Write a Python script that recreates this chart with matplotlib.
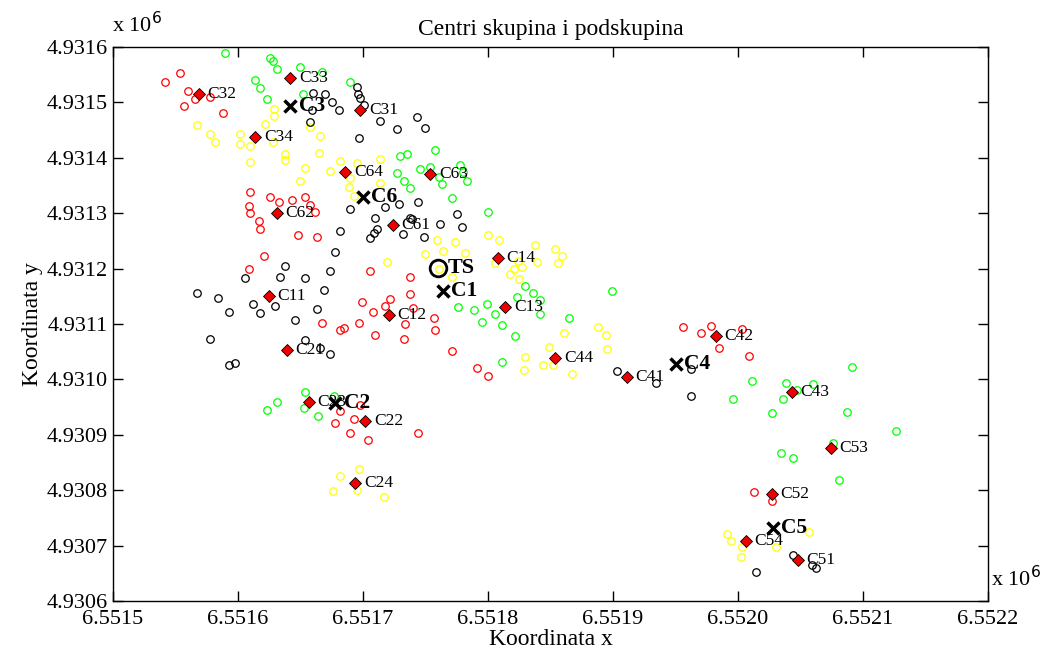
import numpy as np
import matplotlib
matplotlib.use('Agg')
import matplotlib.pyplot as plt

plt.rcParams['font.family'] = ['Liberation Serif', 'DejaVu Serif']

# tocke po skupinama (koordinate u metrima)
red_x = [6551542, 6551554, 6551560, 6551566, 6551557, 6551578, 6551588, 6551610, 6551609, 6551610,
         6551617, 6551618, 6551626, 6551633, 6551643, 6551654, 6551658, 6551662, 6551648, 6551663,
         6551621, 6551609, 6551706, 6551738, 6551699, 6551708, 6551722, 6551718, 6551738, 6551667,
         6551685, 6551682, 6551697, 6551710, 6551733, 6551734, 6551740, 6551757, 6551758, 6551771,
         6551791, 6551800, 6551956, 6551970, 6551978, 6551985, 6552003, 6552009, 6551682, 6551698,
         6551678, 6551693, 6551690, 6551704, 6551744, 6552013, 6552027]
red_y = [4931537, 4931553, 4931521, 4931506, 4931494, 4931510, 4931481, 4931338, 4931313, 4931300,
         4931286, 4931271, 4931329, 4931320, 4931324, 4931329, 4931315, 4931302, 4931261, 4931257,
         4931223, 4931199, 4931196, 4931185, 4931140, 4931122, 4931145, 4931133, 4931154, 4931102,
         4931093, 4931089, 4931102, 4931080, 4931073, 4931100, 4931129, 4931111, 4931089, 4931051,
         4931021, 4931006, 4931095, 4931084, 4931096, 4931057, 4931091, 4931042, 4930943, 4930954,
         4930921, 4930929, 4930903, 4930891, 4930903, 4930797, 4930780]

green_x = [6551590, 6551626, 6551628, 6551631, 6551650, 6551667, 6551614, 6551618, 6551652, 6551623,
           6551690, 6551730, 6551735, 6551727, 6551733, 6551738, 6551758, 6551746, 6551754, 6551761,
           6551763, 6551778, 6551780, 6551783, 6551771, 6551800, 6551899, 6551830, 6551836, 6551842,
           6551842, 6551823, 6551799, 6551806, 6551789, 6551776, 6551795, 6551811, 6551822, 6551865,
           6551811, 6552011, 6551996, 6552038, 6552060, 6552047, 6552036, 6552027, 6552091, 6552087,
           6552126, 6552076, 6552034, 6552044, 6552081, 6551654, 6551631, 6551623, 6551653, 6551664,
           6551677]
green_y = [4931589, 4931580, 4931575, 4931560, 4931564, 4931555, 4931540, 4931526, 4931515, 4931506,
           4931537, 4931403, 4931407, 4931373, 4931358, 4931345, 4931414, 4931380, 4931383, 4931365,
           4931353, 4931387, 4931374, 4931358, 4931327, 4931302, 4931160, 4931169, 4931156, 4931143,
           4931118, 4931149, 4931136, 4931118, 4931125, 4931131, 4931104, 4931098, 4931078, 4931111,
           4931031, 4930997, 4930965, 4930994, 4930992, 4930981, 4930965, 4930939, 4931022, 4930941,
           4930907, 4930885, 4930867, 4930858, 4930818, 4930977, 4930959, 4930945, 4930948, 4930934,
           4930970]

yellow_x = [6551567, 6551578, 6551582, 6551602, 6551602, 6551610, 6551610, 6551622, 6551629, 6551629,
            6551628, 6551638, 6551638, 6551654, 6551650, 6551658, 6551666, 6551665, 6551674, 6551682,
            6551695, 6551690, 6551689, 6551693, 6551714, 6551714, 6551759, 6551774, 6551800, 6551809,
            6551750, 6551764, 6551782, 6551761, 6551771, 6551806, 6551824, 6551827, 6551821, 6551818,
            6551825, 6551838, 6551839, 6551854, 6551859, 6551856, 6551888, 6551894, 6551895, 6551861,
            6551849, 6551830, 6551844, 6551852, 6551829, 6551867, 6551719, 6551697, 6551682, 6551676,
            6551695, 6551717, 6552057, 6551991, 6551994, 6552003, 6552030, 6552002]
yellow_y = [4931459, 4931443, 4931429, 4931443, 4931425, 4931421, 4931392, 4931461, 4931488, 4931475,
            4931429, 4931407, 4931396, 4931382, 4931358, 4931456, 4931439, 4931409, 4931376, 4931394,
            4931391, 4931364, 4931347, 4931331, 4931398, 4931355, 4931252, 4931248, 4931261, 4931252,
            4931226, 4931232, 4931228, 4931199, 4931185, 4931210, 4931214, 4931203, 4931199, 4931190,
            4931181, 4931243, 4931212, 4931235, 4931223, 4931210, 4931095, 4931080, 4931055, 4931084,
            4931058, 4931040, 4931026, 4931026, 4931017, 4931010, 4931212, 4930838, 4930826, 4930799,
            4930800, 4930788, 4930725, 4930721, 4930708, 4930697, 4930697, 4930679]

black_x = [6551660, 6551670, 6551675, 6551681, 6551659, 6551695, 6551696, 6551698, 6551701, 6551714,
           6551727, 6551743, 6551750, 6551697, 6551658, 6551690, 6551718, 6551729, 6551744, 6551710,
           6551682, 6551711, 6551709, 6551739, 6551762, 6551775, 6551779, 6551749, 6551706, 6551732,
           6551738, 6551678, 6551638, 6551634, 6551654, 6551606, 6551674, 6551669, 6551567, 6551584,
           6551612, 6551630, 6551618, 6551593, 6551663, 6551646, 6551578, 6551654, 6551666, 6551674,
           6551593, 6551598, 6551903, 6551934, 6551962, 6551962, 6552044, 6552014, 6552059, 6552062]
black_y = [4931517, 4931515, 4931501, 4931486, 4931486, 4931528, 4931515, 4931508, 4931495, 4931466,
           4931452, 4931474, 4931454, 4931436, 4931465, 4931308, 4931311, 4931317, 4931320, 4931291,
           4931268, 4931271, 4931264, 4931290, 4931280, 4931299, 4931275, 4931257, 4931255, 4931262,
           4931291, 4931230, 4931205, 4931185, 4931183, 4931183, 4931196, 4931161, 4931156, 4931147,
           4931136, 4931133, 4931120, 4931122, 4931127, 4931107, 4931073, 4931071, 4931057, 4931046,
           4931026, 4931030, 4931015, 4930994, 4931019, 4930970, 4930683, 4930652, 4930665, 4930660]

# centri podskupina
sub_names = ['C32', 'C33', 'C34', 'C31', 'C64', 'C63', 'C62', 'C61', 'C14', 'C11', 'C13', 'C12',
             'C21', 'C44', 'C41', 'C42', 'C43', 'C23', 'C22', 'C24', 'C53', 'C52', 'C54', 'C51']
sub_x = [6551569, 6551642, 6551614, 6551698, 6551686, 6551754, 6551631, 6551724, 6551808, 6551625,
         6551814, 6551721, 6551639, 6551854, 6551911, 6551982, 6552043, 6551657, 6551702, 6551694,
         6552074, 6552027, 6552006, 6552048]
sub_y = [4931515, 4931544, 4931438, 4931486, 4931374, 4931371, 4931300, 4931279, 4931219, 4931151,
         4931131, 4931116, 4931053, 4931039, 4931004, 4931078, 4930977, 4930959, 4930925, 4930813,
         4930876, 4930793, 4930708, 4930674]

# centri skupina
cl_names = ['C1', 'C2', 'C3', 'C4', 'C5', 'C6']
cl_x = [6551764, 6551678, 6551642, 6551950, 6552028, 6551700]
cl_y = [4931160, 4930957, 4931494, 4931028, 4930732, 4931329]

ts_x = 6551760
ts_y = 4931201

x_ticks = [6551500, 6551600, 6551700, 6551800, 6551900, 6552000, 6552100, 6552200]
y_ticks = [4930600, 4930700, 4930800, 4930900, 4931000, 4931100, 4931200, 4931300, 4931400, 4931500, 4931600]

fig = plt.figure(figsize=(10.43, 6.53), dpi=100)
ax = fig.add_axes([0.1083, 0.0796, 0.8390, 0.8484])

ms = 5.4
mew = 0.9
ax.plot(red_x, red_y, 'o', mfc='none', mec='#ff0000', ms=ms, mew=mew, ls='none')
ax.plot(green_x, green_y, 'o', mfc='none', mec='#00ff00', ms=ms, mew=mew, ls='none')
ax.plot(yellow_x, yellow_y, 'o', mfc='none', mec='#ffff00', ms=ms, mew=mew, ls='none')
ax.plot(black_x, black_y, 'o', mfc='none', mec='black', ms=ms, mew=mew, ls='none')

ax.plot(sub_x, sub_y, 'D', mfc='#ee0000', mec='black', ms=6.5, mew=0.6, ls='none')
for n, x, y in zip(sub_names, sub_x, sub_y):
    ax.annotate(n, (x, y), xytext=(6, 0), textcoords='offset points', va='center', ha='left', fontsize=12.5)

ax.plot(cl_x, cl_y, 'x', color='black', ms=9, mew=2.5, ls='none')
for n, x, y in zip(cl_names, cl_x, cl_y):
    ax.annotate(n, (x, y), xytext=(6, 0), textcoords='offset points', va='center', ha='left',
                fontsize=15.5, fontweight='bold')

ax.plot([ts_x], [ts_y], 'o', mfc='none', mec='black', ms=12, mew=2)
ax.annotate('TS', (ts_x, ts_y), xytext=(7, 0), textcoords='offset points', va='center', ha='left',
            fontsize=16, fontweight='bold')

ax.set_xlim(6551500, 6552200)
ax.set_ylim(4930600, 4931600)
ax.set_xticks(x_ticks)
ax.set_xticklabels(['%.4f' % (v / 1e6) for v in x_ticks])
ax.set_yticks(y_ticks)
ax.set_yticklabels(['%.4f' % (v / 1e6) for v in y_ticks])
ax.tick_params(direction='in', top=True, right=True, length=7, width=1, labelsize=16)
ax.tick_params(axis='x', pad=6.5)
ax.tick_params(axis='y', pad=4)
for s in ax.spines.values():
    s.set_linewidth(1)

ax.set_title('Centri skupina i podskupina', fontsize=17, pad=9)
ax.set_xlabel('Koordinata x', fontsize=17, labelpad=0)
ax.set_ylabel('Koordinata y', fontsize=17, labelpad=2)

fig.text(0.107, 0.943, r'x 10$^{6}$', fontsize=16, ha='left', va='bottom')
fig.text(0.950, 0.095, r'x 10$^{6}$', fontsize=16, ha='left', va='bottom')

plt.savefig('out.png', dpi=100)
